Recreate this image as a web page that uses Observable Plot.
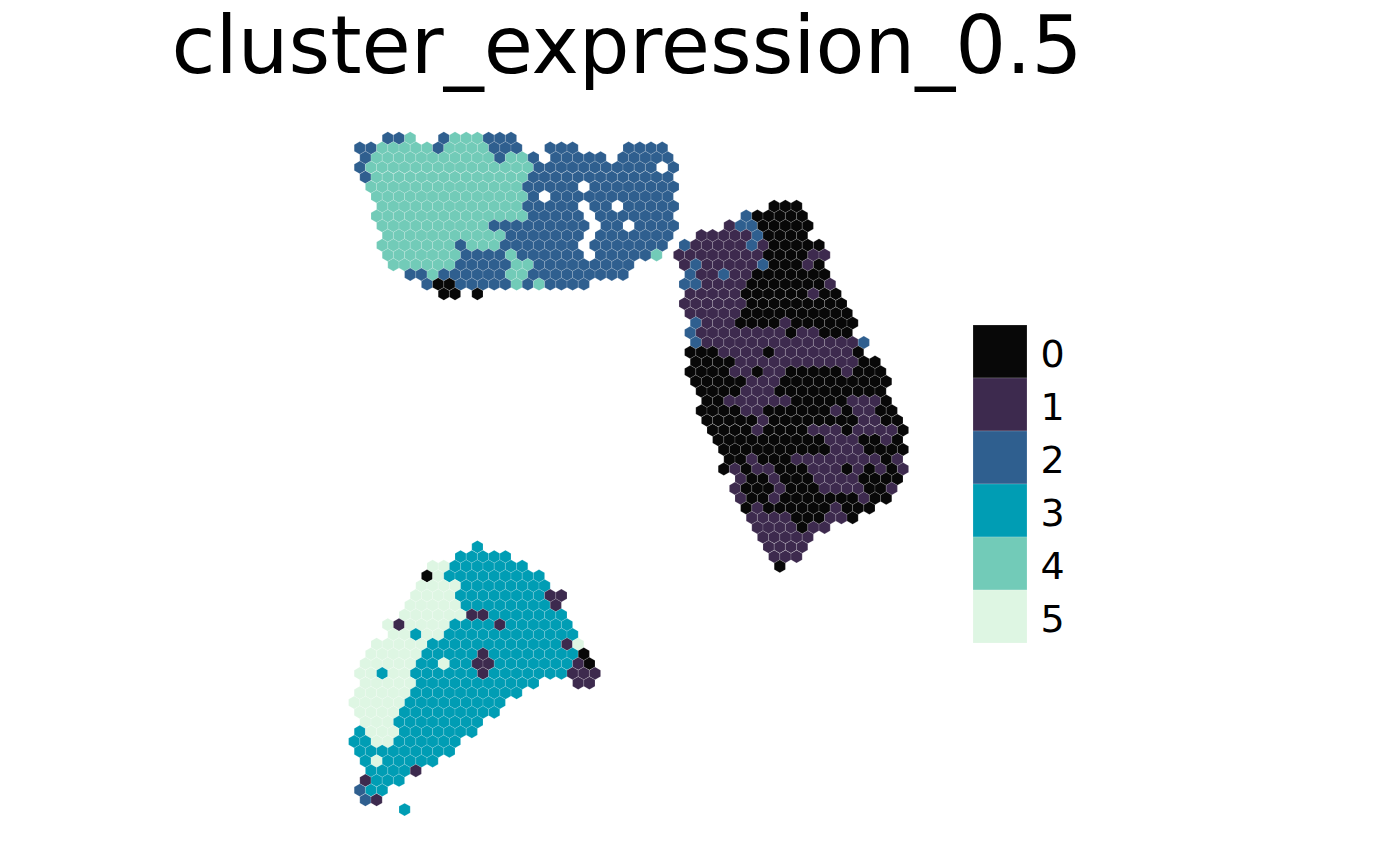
<!DOCTYPE html>
<html>
<head>
<meta charset="utf-8">
<script src="https://cdn.jsdelivr.net/npm/d3@7"></script>
<script src="https://cdn.jsdelivr.net/npm/@observablehq/plot@0.6"></script>
<style>
  body { margin: 0; background: #fff; font-family: "DejaVu Sans", sans-serif; }
  #fig { position: relative; width: 1400px; height: 865px; overflow: hidden; }
  #title { position: absolute; left: 171.6px; top: 5.6px; white-space: nowrap;
           font-size: 80px; line-height: 80px; color: #000; }
  #chart { position: absolute; left: 0; top: 110px; }
  #legend { position: absolute; left: 973px; top: 324px; }
</style>
</head>
<body>
<div id="fig">
  <div id="title">cluster_expression_0.5</div>
  <div id="chart"></div>
  <div id="legend"></div>
</div>
<script>
// cluster ids and colours (legend order)
const clusters = ["0", "1", "2", "3", "4", "5"]
const clusterColors = ["#080808", "#3d2a4e", "#2f5f8f", "#009db4", "#72cbb8", "#def6e3"]

// spots on the hex grid, one run-length coded string per grid row
// "c*n" = n spots of cluster c, "." = no spot; odd rows sit half a column to the right
const topRow0 = 0, topCol0 = 0
const topSection = [
  ".*3 2*2 4 .*2 2 4*3 2*3",
  "2*2 4*5 2 4*4 2*3 .*2 2*3 .*4 2*4",
  ". 2 4*11 2 4*2 2 . 2*5 . 2*5",
  "2 4*15 2*11 . 2",
  ". 2 4*14 2*13",
  ". 4*14 2*5 . 2*8",
  ".*2 4*14 2 . 2*11",
  ".*2 4*13 2*5 . 2*2 . 2*5",
  ".*2 4*14 2*5 . 2*7",
  ".*2 4*10 2*9 . 2*2 . 2*4",
  ".*3 4*11 2*7 . 2*7",
  ".*2 4*7 2 4*3 2*7 . 2*7",
  ".*3 4*7 2*4 4 2*6 . 2*5 4",
  ".*3 4*6 2*5 4*2 2*9",
  ".*5 2*2 4 2*6 4*2 2*9",
  ".*6 2 0*2 2*5 4 2 4 2*4",
  ".*8 0*2 . 0"
]

const rightRow0 = 7, rightCol0 = 28
const rightSection = [
  ".*9 0*3",
  ".*7 2 0*5",
  ".*5 1 2*2 0*5",
  ".*3 1*5 2 0*4",
  ". 2 1*5 2 1 0*5",
  ". 1*8 0*4 1*2",
  ". 1 2 1*5 2 0*3 1 0",
  ".*2 2 1*2 2 1*2 0*7",
  ". 2*2 1*4 0*7 1",
  ".*2 1*5 0*6 1 0*2",
  ". 1*6 0*9",
  ".*2 1*5 0*10",
  ".*2 2 1*3 0*4 1 0*6",
  ".*2 2 1*8 0 1*2 0*3",
  ".*2 2 1*14 2",
  ".*2 0*3 1*4 0 1*7 0",
  ".*2 0*4 1*11 0*2",
  ".*2 0*4 1*2 0 1*2 0*5 1 0*3",
  ".*2 0*5 1*3 0*10",
  ".*3 0*4 1*3 0*10",
  ".*3 0*2 1*6 0*5 1*3 0",
  ".*3 0*4 1*2 0*6 1 0 1*2 0*2",
  ".*3 0*5 1 0*8 1*2 0*2",
  ".*4 0*4 1 0*4 1*3 0 1*4 0",
  ".*4 0*10 1*3 0*2 1 0",
  ".*5 0*10 1*3 0*4",
  ".*5 0*2 1 0*3 1*8 0 1",
  ".*5 0 1 0 1*2 0*3 1*3 0 1 0 1 0 1",
  ".*6 1 0*2 1 0*3 1*4 0*4",
  ".*6 1 0*3 1 0*3 1*4 0*2 1",
  ".*6 1 0*2 1 0*7 1 0*2",
  ".*7 0 1 0*6 1 0*3",
  ".*7 1*4 0*3 1*2 0",
  ".*8 1*4 0 1*2",
  ".*8 1*5",
  ".*9 1*4",
  ".*9 1*3",
  ".*10 0"
]

const bottomRow0 = 42, bottomCol0 = 0
const bottomSection = [
  ".*11 3",
  ".*9 3*5",
  ".*7 5*2 3*7",
  ".*6 0 5 3*9",
  ".*6 5*4 3*8",
  ".*5 5*4 3*8 1*2",
  ".*5 5*5 3*8 1",
  ".*4 5*6 1*2 3*7",
  ".*3 5 1 5*4 3*4 1 3*6",
  ".*3 5*2 3 5*2 3*12",
  ".*2 5*5 3*12 1 5",
  ". 5*5 3*5 1 3*8 0",
  ". 5*5 3*2 5 3*2 1*2 3*7 1 0",
  "5*2 3 5*2 3*6 1 3*7 1*3",
  ". 5*5 3*11 .*3 1*2",
  "5*5 3*10",
  "5*5 3*9",
  "5*4 3*9",
  ". 5*3 3*8",
  "3 5*3 3*7",
  "3*2 5*2 3*6",
  "3*9",
  ". 3 5 3*5",
  ". 3*4 1",
  ". 1 3*3",
  "2 3*2",
  ". 2 1",
  ".*4 3"
]

function expand(code) {
  return code.split(" ").flatMap(tok => {
    const [ch, n] = tok.split("*")
    return Array(n ? +n : 1).fill(ch)
  })
}

const spots = []
;[
  [topRow0, topCol0, topSection],
  [rightRow0, rightCol0, rightSection],
  [bottomRow0, bottomCol0, bottomSection]
].forEach(([row0, col0, rows]) => {
  rows.forEach((code, i) => {
    const row = row0 + i
    expand(code).forEach((ch, j) => {
      if (ch !== ".") spots.push({x: col0 + j + (row % 2) * 0.5, y: row, cluster: ch})
    })
  })
})

let chart = Plot.plot({
  width: 1400,
  height: 755,
  margin: 0,
  style: {background: "transparent"},
  x: {axis: null, domain: [0, 49], range: [353.7, 902.5]},
  y: {axis: null, domain: [0, 69], range: [27.7, 699.1]},
  color: {domain: clusters, range: clusterColors},
  marks: [
    Plot.hexagon(spots, {
      x: "x",
      y: "y",
      r: 5.6,
      fill: "cluster",
      stroke: "white",
      strokeOpacity: 0.3,
      strokeWidth: 0.5
    })
  ]
})
d3.select('#chart').append(() => chart)

// legend: stacked keys with labels
let legend = Plot.plot({
  width: 110,
  height: 320,
  margin: 0,
  style: {background: "transparent", fontFamily: "DejaVu Sans", color: "#000"},
  x: {axis: null, domain: [0, 110], range: [0, 110]},
  y: {axis: null, type: "band", domain: clusters, padding: 0},
  color: {domain: clusters, range: clusterColors},
  marks: [
    Plot.barX(clusters, {x1: 0, x2: 54, y: d => d, fill: d => d,
      stroke: "white", strokeOpacity: 0.3, strokeWidth: 0.6}),
    Plot.text(clusters, {x: 67, y: d => d, text: d => d, textAnchor: "start",
      fontSize: 38, dy: 3, fill: "#000"})
  ]
})
d3.select('#legend').append(() => legend)
</script>
</body>
</html>
